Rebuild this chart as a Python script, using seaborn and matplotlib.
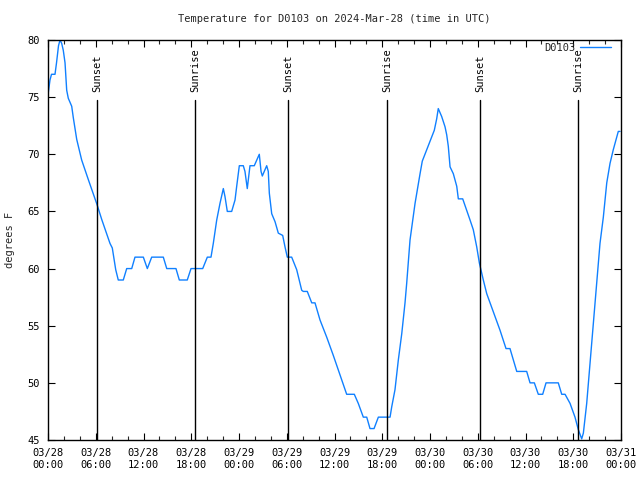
import matplotlib
matplotlib.use("Agg")
import matplotlib.pyplot as plt
import seaborn as sns
import pandas as pd
from matplotlib.ticker import MultipleLocator

# Hours since 2024-03-28 00:00 UTC
hours = [0.00, 0.25, 0.44, 0.88, 1.07, 1.32, 1.51, 1.72, 1.92, 2.14, 2.35, 2.55, 2.98, 3.18,
         3.61, 4.23, 5.06, 6.16, 6.75, 7.79, 8.08, 8.51, 8.83, 9.46, 9.89, 10.52, 10.93,
         11.98, 12.48, 13.03, 14.49, 14.92, 16.08, 16.50, 17.50, 17.97, 19.44, 20.02, 20.48,
         20.77, 21.20, 21.61, 22.03, 22.24, 22.53, 23.08, 23.50, 23.71, 24.04, 24.54, 24.75,
         25.04, 25.38, 25.92, 26.23, 26.55, 26.77, 26.93, 27.48, 27.68, 27.81, 28.11, 28.53,
         28.94, 29.49, 29.78, 30.07, 30.62, 31.25, 31.88, 32.08, 32.58, 33.14, 33.55, 34.18,
         35.02, 35.85, 36.69, 37.53, 38.49, 38.99, 39.62, 40.05, 40.46, 40.97, 41.51, 42.98,
         43.19, 43.60, 44.02, 44.45, 44.86, 45.07, 45.27, 45.49, 45.78, 46.12, 46.41, 46.75,
         47.03, 47.59, 48.22, 48.54, 48.84, 49.04, 49.47, 49.89, 50.10, 50.30, 50.52, 50.93,
         51.36, 51.56, 52.11, 52.61, 53.03, 53.44, 53.87, 54.20, 54.70, 55.13, 55.96, 56.80,
         57.55, 58.05, 58.47, 58.90, 60.15, 60.57, 61.11, 61.61, 62.16, 62.58, 64.12, 64.55,
         64.97, 65.60, 66.22, 66.64, 67.06, 67.27, 67.69, 68.11, 68.52, 68.95, 69.36, 69.78,
         70.21, 70.62, 71.03, 71.66, 71.88]
temps = [75.2, 76.5, 77.0, 77.0, 78.0, 79.5, 80.0, 79.7, 79.1, 78.0, 75.6, 74.9, 74.2, 73.2,
         71.3, 69.5, 67.8, 65.6, 64.3, 62.2, 61.8, 59.9, 59.0, 59.0, 60.0, 60.0, 61.0,
         61.0, 60.0, 61.0, 61.0, 60.0, 60.0, 59.0, 59.0, 60.0, 60.0, 61.0, 61.0,
         62.2, 64.25, 65.7, 67.0, 66.3, 65.0, 65.0, 66.0, 67.2, 69.0, 69.0, 68.5,
         67.0, 69.0, 69.0, 69.5, 70.0, 68.5, 68.1, 69.0, 68.5, 66.6, 64.8, 64.1,
         63.1, 62.9, 61.9, 61.0, 61.0, 59.9, 58.1, 58.0, 58.0, 57.0, 57.0, 55.5,
         54.0, 52.4, 50.7, 49.0, 49.0, 48.2, 47.0, 47.0, 46.0, 46.0, 47.0, 47.0,
         47.9, 49.4, 52.0, 54.3, 57.0, 58.7, 60.5, 62.5, 64.0, 65.7, 66.9, 68.3,
         69.4, 70.4, 71.5, 72.1, 73.1, 74.0, 73.3, 72.4, 71.7, 70.7, 68.9, 68.3,
         67.2, 66.1, 66.1, 65.1, 64.25, 63.4, 61.9, 60.5, 59.0, 57.8, 56.2, 54.6,
         53.0, 53.0, 52.0, 51.0, 51.0, 50.0, 50.0, 49.0, 49.0, 50.0, 50.0, 49.0,
         49.0, 48.2, 47.0, 45.9, 45.1, 45.6, 48.2, 51.7, 55.2, 58.7, 62.2, 64.5,
         67.5, 69.2, 70.4, 72.0, 72.0]

sun_hours = [6.16, 18.47, 30.16, 42.60, 54.29, 66.60]
sun_labels = ["Sunset", "Sunrise", "Sunset", "Sunrise", "Sunset", "Sunrise"]

xtick_pos = [0, 6, 12, 18, 24, 30, 36, 42, 48, 54, 60, 66, 72]
xtick_labels = ["03/28\n00:00", "03/28\n06:00", "03/28\n12:00", "03/28\n18:00",
                "03/29\n00:00", "03/29\n06:00", "03/29\n12:00", "03/29\n18:00",
                "03/30\n00:00", "03/30\n06:00", "03/30\n12:00", "03/30\n18:00",
                "03/31\n00:00"]
ytick_pos = [45, 50, 55, 60, 65, 70, 75, 80]

sns.set_style("ticks")
plt.rcParams['font.family'] = ['DejaVu Sans Mono']
FS = 7.5

df = pd.DataFrame({"hours": hours, "temp": temps})

fig = plt.figure(figsize=(6.4, 4.8), dpi=100)
ax = fig.add_axes([48/640, 40/480, 573/640, 400/480])

line_color = "#1080ff"
sns.lineplot(data=df, x="hours", y="temp", ax=ax, color=line_color, linewidth=1.0,
             label="D0103")

for h, lab in zip(sun_hours, sun_labels):
    ax.axvline(h, ymin=0, ymax=0.85, color="black", linewidth=1.0)
    ax.text(h, 0.87, lab, transform=ax.get_xaxis_transform(), rotation=90,
            ha="center", va="bottom", fontsize=FS, color="black")

ax.set_xlim(0, 72)
ax.set_ylim(45, 80)
ax.set_xticks(xtick_pos)
ax.set_xticklabels(xtick_labels, fontsize=FS)
ax.xaxis.set_minor_locator(MultipleLocator(2))
ax.set_yticks(ytick_pos)
ax.set_yticklabels([str(v) for v in ytick_pos], fontsize=FS)
ax.tick_params(axis="both", which="major", direction="in", length=5, width=0.8,
               top=True, right=True, pad=6, colors="black")
ax.tick_params(axis="x", which="minor", direction="in", length=3, width=0.8,
               top=True, bottom=True)
for s in ax.spines.values():
    s.set_visible(True)
    s.set_linewidth(1.0)
    s.set_color("black")

ax.set_xlabel("")
ax.set_ylabel("degrees F", fontsize=FS)
ax.yaxis.set_label_coords(-33/573, 0.5)

leg = ax.legend(loc="upper right", bbox_to_anchor=(0.988, 1.0), frameon=False,
                markerfirst=False, fontsize=FS, handlelength=3.0, handletextpad=0.4,
                borderpad=0.3, borderaxespad=0)

fig.text(334/640, 1 - 19/480, "Temperature for D0103 on 2024-Mar-28 (time in UTC)",
         ha="center", va="center", fontsize=FS)

fig.savefig("out.png", dpi=100, facecolor="white")
